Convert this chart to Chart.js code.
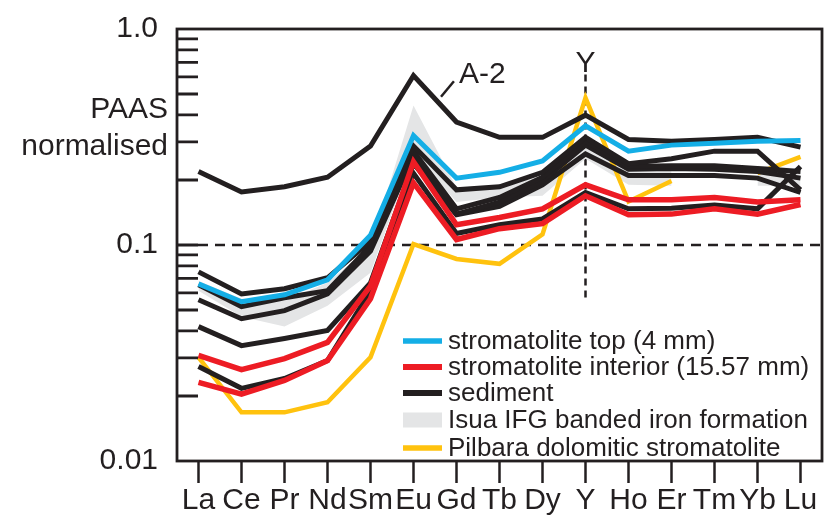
<!DOCTYPE html>
<html>
<head>
<meta charset="utf-8">
<script src="https://cdn.jsdelivr.net/npm/chart.js@4.4.1/dist/chart.umd.min.js"></script>
<style>
  html, body { margin: 0; padding: 0; background: #fff; }
  #wrap { width: 826px; height: 528px; }
</style>
</head>
<body>
<div id="wrap"><canvas id="reeChart" width="826" height="528"></canvas></div>
<script>
// REE + Y, PAAS normalised
var elements = ['La', 'Ce', 'Pr', 'Nd', 'Sm', 'Eu', 'Gd', 'Tb', 'Dy', 'Y', 'Ho', 'Er', 'Tm', 'Yb', 'Lu'];

var yTickValues = [0.01, 0.1, 1];
var yTickLabels = ['0.01', '0.1', '1.0'];
var yMinorTicks = [0.02, 0.03, 0.04, 0.05, 0.06, 0.07, 0.08, 0.09, 0.1, 0.2, 0.3, 0.4, 0.5, 0.6, 0.7, 0.8, 0.9];

// stromatolite top (4 mm)
var stromTop = [0.0661, 0.0546, 0.0588, 0.069, 0.111, 0.321, 0.204, 0.217, 0.245, 0.356, 0.272, 0.290, 0.296, 0.302, 0.305];

// stromatolite interior (15.57 mm), two samples
var stromInt1 = [0.0308, 0.0265, 0.0298, 0.0354, 0.0647, 0.243, 0.124, 0.134, 0.147, 0.190, 0.162, 0.162, 0.166, 0.158, 0.162];
var stromInt2 = [0.0231, 0.0204, 0.0236, 0.0292, 0.0564, 0.194, 0.106, 0.119, 0.1256, 0.169, 0.138, 0.139, 0.147, 0.139, 0.154];

// sediment
var sedA2 = [0.219, 0.176, 0.186, 0.206, 0.287, 0.609, 0.371, 0.315, 0.315, 0.399, 0.308, 0.302, 0.308, 0.315, 0.284];
var sed1 = [0.0751, 0.0594, 0.0627, 0.0705, 0.104, 0.287, 0.180, 0.186, 0.217, 0.315, 0.238, 0.251, 0.272, 0.272, 0.180];
var sed2 = [0.0654, 0.0518, 0.057, 0.0614, 0.099, 0.272, 0.147, 0.166, 0.206, 0.302, 0.231, 0.233, 0.233, 0.226, 0.219];
var sed3 = [0.0558, 0.0456, 0.0497, 0.0594, 0.0938, 0.259, 0.139, 0.158, 0.198, 0.290, 0.224, 0.226, 0.224, 0.219, 0.204];
var sed4 = [0.0419, 0.0342, 0.0369, 0.0402, 0.0668, 0.238, 0.138, 0.151, 0.190, 0.264, 0.210, 0.210, 0.210, 0.204, 0.175];
var sed5 = [0.0274, 0.0217, 0.0241, 0.0292, 0.0614, 0.215, 0.113, 0.124, 0.132, 0.175, 0.147, 0.148, 0.153, 0.147, 0.231];

// Isua IFG banded iron formation (range)
var isuaUpper = [0.0682, 0.0564, 0.0552, 0.0668, 0.099, 0.442, 0.184, 0.184, 0.210, 0.299, 0.233, 0.226, null, 0.233, 0.226];
var isuaLower = [0.0614, 0.0466, 0.0419, 0.0523, 0.0743, 0.264, 0.158, 0.166, 0.169, 0.251, 0.190, 0.188, null, 0.188, 0.188];

// Pilbara dolomitic stromatolite
var pilbara = [0.0302, 0.0168, 0.0168, 0.0187, 0.0302, 0.101, 0.0862, 0.0818, 0.112, 0.480, 0.159, 0.198, null, 0.215, 0.256];

var legendLabels = ['stromatolite top (4 mm)', 'stromatolite interior (15.57 mm)', 'sediment', 'Isua IFG banded iron formation', 'Pilbara dolomitic stromatolite'];

var ink = '#231f20';
var blue = '#14aee6';
var red = '#ed1c24';
var yellow = '#ffc20e';
var grey = '#e4e5e6';
var fontName = "'Liberation Sans', Arial, sans-serif";

// annotation anchors (category index / value)
var yMarkTop = 0.616, yMarkBottom = 0.0552, yLabelValue = 0.635;
var a2Leader = [[5.64, 0.486], [5.94, 0.573]];
var a2Text = [6.06, 0.561];

function lineSet(label, data, color, width) {
    return {
        label: label,
        data: data,
        borderColor: color,
        backgroundColor: color,
        borderWidth: width,
        pointRadius: 0,
        pointHoverRadius: 0,
        tension: 0,
        fill: false,
        spanGaps: false,
        borderJoinStyle: 'miter',
        borderCapStyle: 'butt'
    };
}

// first in list is painted last (on top)
var datasets = [
    lineSet('stromatolite interior 1', stromInt1, red, 5.5),
    lineSet('stromatolite interior 2', stromInt2, red, 5.5),
    lineSet('stromatolite top', stromTop, blue, 5),
    lineSet('A-2', sedA2, ink, 5),
    lineSet('sediment 1', sed1, ink, 5),
    lineSet('sediment 2', sed2, ink, 5),
    lineSet('sediment 3', sed3, ink, 5),
    lineSet('sediment 4', sed4, ink, 5),
    lineSet('sediment 5', sed5, ink, 5),
    lineSet('Pilbara', pilbara, yellow, 4.5),
    {
        label: 'Isua upper', data: isuaUpper, borderWidth: 0, borderColor: 'rgba(0,0,0,0)',
        backgroundColor: grey, fill: '+1', pointRadius: 0, tension: 0, spanGaps: false
    },
    {
        label: 'Isua lower', data: isuaLower, borderWidth: 0, borderColor: 'rgba(0,0,0,0)',
        backgroundColor: grey, fill: false, pointRadius: 0, tension: 0, spanGaps: false
    }
];

var reeDecor = {
    id: 'reeDecor',
    beforeDatasetsDraw: function (chart) {
        var ctx = chart.ctx, a = chart.chartArea, xs = chart.scales.x, ys = chart.scales.y;
        ctx.save();
        ctx.strokeStyle = ink;
        ctx.lineWidth = 2.5;
        ctx.setLineDash([10, 7]);
        var y01 = ys.getPixelForValue(0.1);
        ctx.beginPath();
        ctx.moveTo(a.left + 21, y01);
        ctx.lineTo(a.right, y01);
        ctx.stroke();
        ctx.setLineDash([7, 5]);
        var xY = xs.getPixelForValue(9);
        ctx.beginPath();
        ctx.moveTo(xY, ys.getPixelForValue(yMarkTop));
        ctx.lineTo(xY, ys.getPixelForValue(yMarkBottom));
        ctx.stroke();
        ctx.restore();
    },
    afterDatasetsDraw: function (chart) {
        var ctx = chart.ctx, a = chart.chartArea, ys = chart.scales.y;
        ctx.save();
        ctx.strokeStyle = ink;
        ctx.lineWidth = 2.8;
        ctx.strokeRect(a.left, a.top, a.right - a.left, a.bottom - a.top);
        ctx.beginPath();
        for (var i = 0; i < yMinorTicks.length; i++) {
            var py = ys.getPixelForValue(yMinorTicks[i]);
            ctx.moveTo(a.left, py);
            ctx.lineTo(a.left + 21, py);
        }
        ctx.stroke();
        ctx.restore();
    },
    afterDraw: function (chart) {
        var ctx = chart.ctx, a = chart.chartArea, xs = chart.scales.x, ys = chart.scales.y;
        ctx.save();
        ctx.fillStyle = ink;
        ctx.font = '30px ' + fontName;

        // axis title
        ctx.textAlign = 'right';
        ctx.textBaseline = 'alphabetic';
        ctx.fillText('PAAS', a.left - 9, a.top + 89);
        ctx.fillText('normalised', a.left - 9, a.top + 126);

        // Y marker label
        ctx.textAlign = 'center';
        ctx.fillText('Y', xs.getPixelForValue(9), ys.getPixelForValue(yLabelValue));

        // A-2 label
        ctx.textAlign = 'left';
        ctx.fillText('A-2', xs.getPixelForValue(a2Text[0]), ys.getPixelForValue(a2Text[1]));
        ctx.strokeStyle = ink;
        ctx.lineWidth = 2.5;
        ctx.beginPath();
        ctx.moveTo(xs.getPixelForValue(a2Leader[0][0]), ys.getPixelForValue(a2Leader[0][1]));
        ctx.lineTo(xs.getPixelForValue(a2Leader[1][0]), ys.getPixelForValue(a2Leader[1][1]));
        ctx.stroke();

        // legend
        var lx = a.left + 226, tx = a.left + 271;
        var rows = [a.top + 312, a.top + 338, a.top + 364, a.top + 391, a.top + 419];
        var sw = [[blue, 5.5], [red, 6], [ink, 6], [grey, 15], [yellow, 5.5]];
        ctx.font = '26px ' + fontName;
        ctx.textBaseline = 'middle';
        for (var i = 0; i < legendLabels.length; i++) {
            ctx.fillStyle = sw[i][0];
            ctx.fillRect(lx, rows[i] - sw[i][1] / 2, 39, sw[i][1]);
            ctx.fillStyle = ink;
            ctx.fillText(legendLabels[i], tx, rows[i] + 1);
        }
        ctx.restore();
    }
};

var reeChartElement = document.getElementById('reeChart').getContext('2d');
new Chart(reeChartElement, {
    type: 'line',
    data: {
        labels: elements,
        datasets: datasets
    },
    options: {
        responsive: false,
        animation: false,
        events: [],
        layout: {
            padding: { top: 21, right: 4, left: 0, bottom: 0 }
        },
        plugins: {
            legend: { display: false },
            title: { display: false },
            tooltip: { enabled: false },
            filler: { propagate: false }
        },
        scales: {
            x: {
                type: 'category',
                offset: true,
                grid: {
                    display: true,
                    drawOnChartArea: false,
                    drawTicks: true,
                    tickLength: 22,
                    tickWidth: 2.5,
                    tickColor: ink,
                    offset: false
                },
                border: { display: false },
                ticks: {
                    font: { family: fontName, size: 30 },
                    color: ink,
                    padding: 0,
                    autoSkip: false,
                    maxRotation: 0,
                    minRotation: 0
                },
                afterFit: function (scale) { scale.height = 67; }
            },
            y: {
                type: 'logarithmic',
                min: 0.01,
                max: 1,
                afterBuildTicks: function (scale) {
                    scale.ticks = yTickValues.map(function (v) { return { value: v, major: true }; });
                },
                ticks: {
                    callback: function (value, index) { return yTickLabels[index]; },
                    font: { family: fontName, size: 30 },
                    color: ink,
                    padding: 11
                },
                grid: { display: false },
                border: { display: false },
                afterFit: function (scale) { scale.width = 177; }
            }
        }
    },
    plugins: [reeDecor]
});
</script>
</body>
</html>
